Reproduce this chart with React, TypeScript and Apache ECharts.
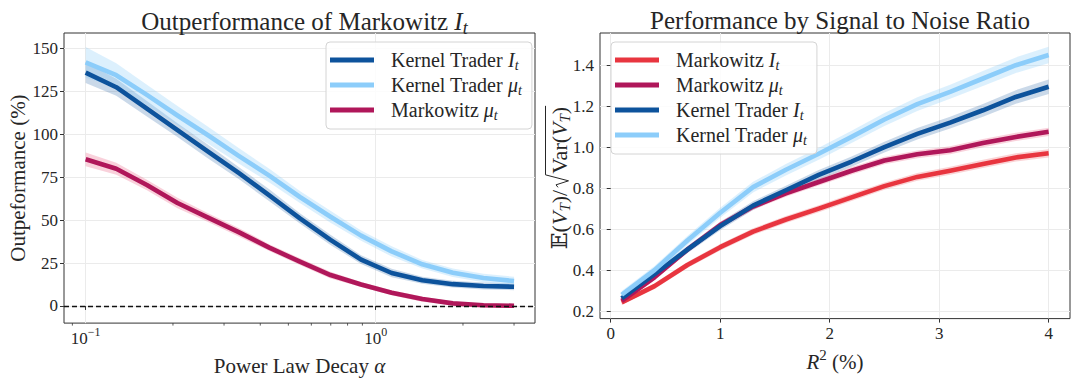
import React, { useEffect, useRef } from 'react';
import * as echarts from 'echarts';

// ---------- data: left panel (outperformance vs power-law decay) ----------
const alpha = [0.1, 0.1275, 0.1626, 0.2073, 0.2643, 0.337, 0.4297, 0.5479, 0.6985, 0.8906, 1.1354, 1.4477, 1.8458, 2.3534, 3.0];
const outKernelI = [136, 127.5, 115, 102.5, 90, 77.5, 64.5, 51, 38.5, 27, 19.2, 15, 12.7, 11.6, 11.2];
const outKernelMu = [142, 134.5, 123, 111, 99.5, 87.5, 76, 63.5, 52, 41, 31.8, 24.3, 19.3, 16.3, 14.5];
const outMarkMu = [85.5, 80, 70.5, 60, 51.5, 43, 34, 25.8, 18, 12.5, 7.7, 4, 1.5, 0.4, 0.1];
const outKernelIErr = [6, 5, 4.5, 4, 4, 3.5, 3.5, 3, 3, 2.5, 2.5, 2, 2, 2, 2];
const outKernelMuErr = [9, 7, 6, 5.5, 5, 4.5, 4, 3.5, 3.5, 3, 3, 2.5, 2.5, 2.5, 2.5];
const outMarkMuErr = [4, 3.5, 3, 3, 2.5, 2.5, 2, 2, 2, 1.5, 1.5, 1.5, 1, 1, 1];

// ---------- data: right panel (performance vs R^2) ----------
const r2 = [0.1, 0.4, 0.7, 1.0, 1.3, 1.6, 1.9, 2.2, 2.5, 2.8, 3.1, 3.4, 3.7, 4.0];
const snrMarkI = [0.243, 0.322, 0.425, 0.512, 0.588, 0.647, 0.7, 0.755, 0.81, 0.855, 0.885, 0.918, 0.95, 0.97];
const snrMarkMu = [0.25, 0.365, 0.5, 0.62, 0.71, 0.775, 0.83, 0.885, 0.935, 0.965, 0.985, 1.02, 1.05, 1.075];
const snrKernelI = [0.262, 0.38, 0.5, 0.615, 0.715, 0.79, 0.865, 0.93, 1.0, 1.065, 1.12, 1.18, 1.245, 1.295];
const snrKernelMu = [0.28, 0.4, 0.545, 0.68, 0.805, 0.89, 0.968, 1.05, 1.135, 1.21, 1.27, 1.335, 1.4, 1.45];
const snrMarkIErr = [0.012, 0.014, 0.015, 0.016, 0.016, 0.017, 0.017, 0.018, 0.018, 0.019, 0.019, 0.02, 0.02, 0.02];
const snrMarkMuErr = [0.012, 0.014, 0.015, 0.016, 0.016, 0.017, 0.017, 0.018, 0.018, 0.019, 0.019, 0.02, 0.02, 0.02];
const snrKernelIErr = [0.014, 0.016, 0.018, 0.02, 0.021, 0.022, 0.024, 0.025, 0.026, 0.028, 0.029, 0.031, 0.033, 0.035];
const snrKernelMuErr = [0.018, 0.02, 0.022, 0.024, 0.026, 0.028, 0.029, 0.03, 0.032, 0.033, 0.034, 0.036, 0.038, 0.04];

// ---------- ticks ----------
const leftXTicks = [0.1, 1];
const leftXMinorTicks = [0.09, 0.2, 0.3, 0.4, 0.5, 0.6, 0.7, 0.8, 0.9, 2, 3];
const leftYTicks = [0, 25, 50, 75, 100, 125, 150];
const rightXTicks = [0, 1, 2, 3, 4];
const rightYTicks = [0.2, 0.4, 0.6, 0.8, 1.0, 1.2, 1.4];

const NAME_KI = 'Kernel Trader I_t';
const NAME_KM = 'Kernel Trader μ_t';
const NAME_MM = 'Markowitz μ_t';
const NAME_MI = 'Markowitz I_t';
const leftLegend = [NAME_KI, NAME_KM, NAME_MM];
const rightLegend = [NAME_MI, NAME_MM, NAME_KI, NAME_KM];

const FONT = '"Liberation Serif", "DejaVu Serif", serif';
const TXT = '#262626';
const COL = { ki: '#0d539c', km: '#8ccdfa', mm: '#b0175a', mi: '#e8353f' };
const BAND = {
  ki: 'rgba(13,83,156,0.22)',
  km: 'rgba(140,205,250,0.30)',
  mm: 'rgba(232,90,125,0.28)',
  mi: 'rgba(232,53,63,0.22)',
};

const LEFT_Y_MIN = -10;

function richSet(size: number, subShift = 0.24, supShift = 0.34) {
  const s = Math.round(size * 0.7);
  const lh = Math.round(size * 1.15);
  return {
    n: { fontSize: size, fontFamily: FONT, color: TXT, lineHeight: lh },
    h: { fontSize: size, fontFamily: FONT, color: TXT, lineHeight: lh, padding: [0, 0, 0, 12] },
    i: { fontSize: size, fontFamily: FONT, color: TXT, fontStyle: 'italic', lineHeight: lh },
    s: { fontSize: s, fontFamily: FONT, color: TXT, fontStyle: 'italic', lineHeight: lh, padding: [Math.round(size * subShift * 2), 0, 0, 0] },
    sup: { fontSize: s, fontFamily: FONT, color: TXT, lineHeight: lh, padding: [0, 0, Math.round(size * supShift * 2), 0] },
  };
}

function legendFmt(name: string) {
  const [base, sub] = name.split('_');
  const head = base.slice(0, -1);
  const last = base.slice(-1);
  return `{h|${head}}{i|${last}}{s|${sub}}`;
}

function bandSeries(name: string, xs: number[], ys: number[], err: number[], band: string, g: number) {
  return {
    type: 'custom', name: `${name} band ${g}`, xAxisIndex: g, yAxisIndex: g, silent: true,
    data: xs.map((x, i) => [x, ys[i] - err[i], ys[i] + err[i]]),
    encode: { x: 0, y: [1, 2] },
    renderItem: (params: any, api: any) => {
      if (params.dataIndex !== 0) return { type: 'group', children: [] };
      const upper = xs.map((x, i) => api.coord([x, ys[i] + err[i]]));
      const lower = xs.map((x, i) => api.coord([x, ys[i] - err[i]])).reverse();
      return { type: 'polygon', shape: { points: [...upper, ...lower] }, style: { fill: band, stroke: null } };
    },
  };
}

function lineSeries(name: string, xs: number[], ys: number[], color: string, g: number) {
  return {
    type: 'line', name, xAxisIndex: g, yAxisIndex: g, showSymbol: false, symbol: 'none', silent: true,
    data: xs.map((x, i) => [x, ys[i]]),
    lineStyle: { color, width: 4.6, cap: 'butt', join: 'round' }, itemStyle: { color },
  };
}

function textWidth(text: string, size: number, italic = false) {
  const T: any = (echarts.graphic as any).Text;
  const t = new T({ style: { text, fontSize: size, fontFamily: FONT, fontStyle: italic ? 'italic' : 'normal' } });
  return t.getBoundingRect().width;
}

function rightYLabel() {
  const M = 22, S = 15;
  type P = { t?: string; it?: boolean; s?: number; dy?: number; rad?: boolean; gap?: number };
  const parts: P[] = [
    { t: '𝔼' }, { t: '(' }, { t: 'V', it: true }, { t: 'T', it: true, s: S, dy: 6 }, { t: ')' },
    { t: '/', gap: 2 }, { rad: true },
    { t: 'Var(' }, { t: 'V', it: true }, { t: 'T', it: true, s: S, dy: 6 }, { t: ')' },
  ];
  const RW = 14;
  const widths = parts.map((p) => (p.rad ? RW : textWidth(p.t!, p.s || M, !!p.it) + (p.gap || 0)));
  const W = widths.reduce((a, b) => a + b, 0);
  let x = -W / 2;
  const children: any[] = [];
  let radStart = 0;
  parts.forEach((p, k) => {
    if (p.rad) {
      radStart = x;
    } else {
      children.push({
        type: 'text', x, y: p.dy || 0,
        style: {
          text: p.t, fontSize: p.s || M, fontFamily: FONT, fontStyle: p.it ? 'italic' : 'normal',
          fill: TXT, align: 'left', verticalAlign: 'middle',
        },
      });
    }
    x += widths[k];
  });
  const top = -13.5;
  children.push({
    type: 'polyline',
    shape: { points: [[radStart + 0.5, -1], [radStart + 3, -3], [radStart + 7, 9.5], [radStart + RW - 1, top], [x + 1, top]] },
    style: { stroke: TXT, lineWidth: 1, fill: null },
  });
  return { type: 'group', x: 559, y: 178, rotation: Math.PI / 2, children };
}

function buildOption(): any {
  const axisTick = (vals: number[]) => ({ show: true, length: 4, lineStyle: { color: '#333', width: 1 }, customValues: vals });
  const split = { show: true, lineStyle: { color: '#ebebeb', width: 1 } };
  const tickFont = { fontSize: 17, fontFamily: FONT, color: TXT };

  const series: any[] = [
    bandSeries(NAME_KI, alpha, outKernelI, outKernelIErr, BAND.ki, 0),
    lineSeries(NAME_KI, alpha, outKernelI, COL.ki, 0),
    bandSeries(NAME_KM, alpha, outKernelMu, outKernelMuErr, BAND.km, 0),
    lineSeries(NAME_KM, alpha, outKernelMu, COL.km, 0),
    bandSeries(NAME_MM, alpha, outMarkMu, outMarkMuErr, BAND.mm, 0),
    lineSeries(NAME_MM, alpha, outMarkMu, COL.mm, 0),
    bandSeries(NAME_MI, r2, snrMarkI, snrMarkIErr, BAND.mi, 1),
    lineSeries(NAME_MI, r2, snrMarkI, COL.mi, 1),
    bandSeries(NAME_MM, r2, snrMarkMu, snrMarkMuErr, BAND.mm, 1),
    lineSeries(NAME_MM, r2, snrMarkMu, COL.mm, 1),
    bandSeries(NAME_KI, r2, snrKernelI, snrKernelIErr, BAND.ki, 1),
    lineSeries(NAME_KI, r2, snrKernelI, COL.ki, 1),
    bandSeries(NAME_KM, r2, snrKernelMu, snrKernelMuErr, BAND.km, 1),
    lineSeries(NAME_KM, r2, snrKernelMu, COL.km, 1),
  ];
  // zero reference line on the left panel
  series.push({
    type: 'line', name: 'zero', xAxisIndex: 0, yAxisIndex: 0, data: [], silent: true,
    markLine: {
      silent: true, symbol: 'none', label: { show: false }, z: 10,
      lineStyle: { color: '#111', type: [5, 3], width: 1.3 },
      data: [{ yAxis: 0 }],
    },
  });
  // minor ticks of the log axis
  series.push({
    type: 'custom', name: 'minor ticks', xAxisIndex: 0, yAxisIndex: 0, silent: true, clip: false,
    data: leftXMinorTicks.map((v) => [v, LEFT_Y_MIN]),
    renderItem: (_p: any, api: any) => {
      const pt = api.coord([api.value(0), api.value(1)]);
      return {
        type: 'line', shape: { x1: pt[0], y1: pt[1], x2: pt[0], y2: pt[1] + 2.5 },
        style: { stroke: '#333', lineWidth: 0.8 },
      };
    },
  });

  const legendCommon = {
    orient: 'vertical', icon: 'rect', itemWidth: 44, itemHeight: 5, itemGap: 1,
    padding: [6, 10, 7, 4],
    backgroundColor: 'rgba(255,255,255,0.85)', borderColor: '#d4d4d4', borderWidth: 1, borderRadius: 4,
    formatter: legendFmt, textStyle: { rich: richSet(20), color: TXT }, selectedMode: false,
  };

  const nameStyle = { fontSize: 21, fontFamily: FONT, color: TXT, rich: richSet(21), verticalAlign: 'middle' };

  return {
    animation: false,
    backgroundColor: '#fff',
    textStyle: { fontFamily: FONT },
    title: [
      {
        text: '{n|Outperformance of Markowitz }{i|I}{s|t}', left: 299.5, top: 2, textAlign: 'center',
        textStyle: { fontSize: 25, fontFamily: FONT, color: TXT, fontWeight: 'normal', rich: richSet(25) },
      },
      {
        text: 'Performance by Signal to Noise Ratio', left: 835, top: 3, textAlign: 'center',
        textStyle: { fontSize: 25, fontFamily: FONT, color: TXT, fontWeight: 'normal' },
      },
    ],
    legend: [
      { ...legendCommon, data: leftLegend, left: 326, top: 42 },
      { ...legendCommon, data: rightLegend, left: 611, top: 42 },
    ],
    grid: [
      { left: 64, right: 545, top: 33, bottom: 57, show: true, borderColor: '#333', borderWidth: 1, backgroundColor: 'transparent' },
      { left: 600, right: 10, top: 33, bottom: 57, show: true, borderColor: '#333', borderWidth: 1, backgroundColor: 'transparent' },
    ],
    xAxis: [
      {
        type: 'log', logBase: 10, gridIndex: 0, min: 0.0842, max: 3.543,
        axisLine: { show: false }, axisTick: axisTick(leftXTicks), splitLine: split,
        axisLabel: {
          customValues: leftXTicks, margin: 15, verticalAlign: 'middle', ...tickFont, rich: richSet(17),
          formatter: (v: number) => {
            const e = Math.round(Math.log10(v));
            return `{n|10}{sup|${e < 0 ? '−' : ''}${Math.abs(e)}}`;
          },
        },
        name: '{n|Power Law Decay }{i|α}', nameLocation: 'middle', nameGap: 26,
        nameTextStyle: nameStyle,
      },
      {
        type: 'value', gridIndex: 1, min: -0.098, max: 4.195,
        axisLine: { show: false }, axisTick: axisTick(rightXTicks), splitLine: split,
        axisLabel: { customValues: rightXTicks, margin: 15, verticalAlign: 'middle', ...tickFont, formatter: (v: number) => `${v}` },
        name: '{i|R}{sup|2}{n| (%)}', nameLocation: 'middle', nameGap: 26,
        nameTextStyle: nameStyle,
      },
    ],
    yAxis: [
      {
        type: 'value', gridIndex: 0, min: LEFT_Y_MIN, max: 159.1,
        axisLine: { show: false }, axisTick: axisTick(leftYTicks), splitLine: split,
        axisLabel: { customValues: leftYTicks, margin: 6, ...tickFont, formatter: (v: number) => `${v}` },
        name: 'Outpeformance (%)', nameLocation: 'middle', nameRotate: 90, nameGap: 33,
        nameTextStyle: { fontSize: 21, fontFamily: FONT, color: TXT },
      },
      {
        type: 'value', gridIndex: 1, min: 0.1636, max: 1.557,
        axisLine: { show: false }, axisTick: axisTick(rightYTicks), splitLine: split,
        axisLabel: { customValues: rightYTicks, margin: 6, ...tickFont, formatter: (v: number) => v.toFixed(1) },
      },
    ],
    graphic: [rightYLabel()],
    series,
  };
}

export default function App() {
  const ref = useRef<HTMLDivElement>(null);
  useEffect(() => {
    const chart = echarts.init(ref.current!, null, { renderer: 'svg' });
    chart.setOption(buildOption());
    return () => chart.dispose();
  }, []);
  return (
    <div
      ref={ref}
      style={{ position: 'absolute', left: 0, top: 0, width: 1080, height: 381, background: '#fff' }}
    />
  );
}
